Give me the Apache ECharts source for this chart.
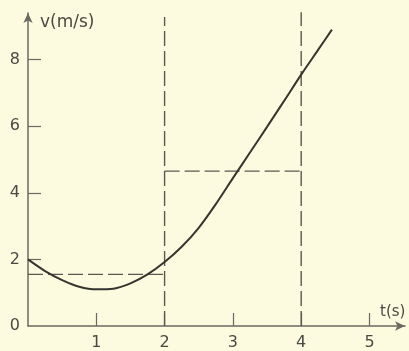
<!DOCTYPE html>
<html>
<head>
<meta charset="utf-8">
<script src="https://cdn.jsdelivr.net/npm/echarts@6/dist/echarts.min.js"></script>
<style>
html,body{margin:0;padding:0;background:#fcfadf;}
#c{width:409px;height:351px;}
</style>
</head>
<body>
<div id="c"></div>
<script>
// Data
const tValues = [0, 0.25, 0.5, 0.75, 1.0, 1.25, 1.5, 1.75, 2.0, 2.25, 2.5, 2.75, 3.0, 3.25, 3.5, 3.75, 4.0, 4.25, 4.45];
const vValues = [2.0, 1.65, 1.38, 1.18, 1.1, 1.12, 1.28, 1.55, 1.92, 2.38, 2.95, 3.66, 4.44, 5.21, 5.98, 6.76, 7.55, 8.3, 8.9];
const xTicks = [1, 2, 3, 4, 5];
const yTicks = [2, 4, 6, 8];
const yLabels = [0, 2, 4, 6, 8];
const avgLow = { t0: 0, t1: 2, v: 1.55 };
const avgHigh = { t0: 2, t1: 4, v: 4.65 };
const vLines = [{ t: 2, top: 9.28 }, { t: 4, top: 9.43 }];
const xMax = 5.52, yMax = 9.4;

const lineColor = '#36352f';
const axisColor = '#6b6a60';
const dashColor = '#5a5950';
const textColor = '#4a4a44';

const curve = tValues.map((t, i) => [t, vValues[i]]);
const dashStyle = { color: dashColor, width: 1.4, type: [15, 5] };

const series = [
  { type: 'line', data: curve, smooth: 0.3, showSymbol: false, lineStyle: { color: lineColor, width: 2 }, silent: true, z: 5 },
  { type: 'line', data: [[avgLow.t0, avgLow.v], [avgLow.t1, avgLow.v]], showSymbol: false, lineStyle: dashStyle, silent: true },
  { type: 'line', data: [[avgHigh.t0, avgHigh.v], [avgHigh.t1, avgHigh.v]], showSymbol: false, lineStyle: dashStyle, silent: true }
];
vLines.forEach(l => series.push({ type: 'line', data: [[l.t, 0], [l.t, l.top]], showSymbol: false, lineStyle: dashStyle, silent: true }));

const chart = echarts.init(document.getElementById('c'), null, { renderer: 'canvas' });
chart.setOption({
  backgroundColor: '#fcfadf',
  animation: false,
  grid: { left: 28, right: 4, top: 13, bottom: 23, containLabel: false },
  xAxis: {
    type: 'value', min: 0, max: xMax, interval: 1,
    name: 't(s)', nameLocation: 'end', nameGap: -25,
    nameTextStyle: { fontFamily: 'DejaVu Sans', fontSize: 15, color: textColor, align: 'left', verticalAlign: 'bottom', padding: [0, 0, 6, 0] },
    axisLine: { show: true, symbol: ['none', 'arrow'], symbolSize: [7, 10], lineStyle: { color: axisColor, width: 1.5 } },
    axisTick: { show: true, inside: true, length: 13, customValues: xTicks, lineStyle: { color: axisColor, width: 1.2 } },
    axisLabel: { customValues: xTicks, margin: 9, fontFamily: 'DejaVu Sans', fontSize: 16, color: textColor },
    splitLine: { show: false }
  },
  yAxis: {
    type: 'value', min: 0, max: yMax, interval: 2,
    name: 'v(m/s)', nameLocation: 'end', nameGap: -18,
    nameTextStyle: { fontFamily: 'DejaVu Sans', fontSize: 17, color: textColor, align: 'left', verticalAlign: 'bottom', padding: [0, 0, 0, 12] },
    axisLine: { show: true, symbol: ['none', 'arrow'], symbolSize: [7, 10], lineStyle: { color: axisColor, width: 1.5 } },
    axisTick: { show: true, inside: true, length: 13, customValues: yTicks, lineStyle: { color: axisColor, width: 1.2 } },
    axisLabel: { customValues: yLabels, margin: 8, fontFamily: 'DejaVu Sans', fontSize: 16, color: textColor },
    splitLine: { show: false }
  },
  series: series
});
</script>
</body>
</html>
